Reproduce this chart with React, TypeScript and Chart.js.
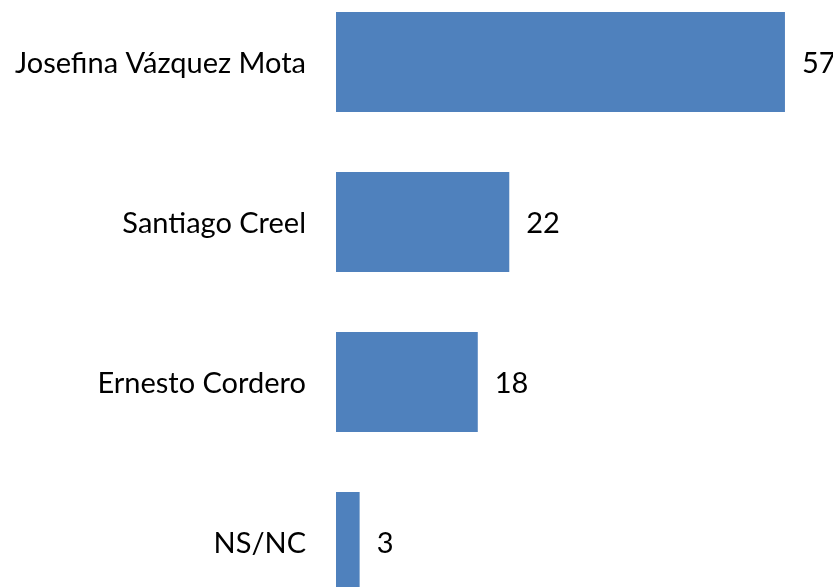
import React, { useEffect, useRef } from "react";
import { Chart, registerables } from "chart.js";

Chart.register(...registerables);

const categories = ["Josefina Vázquez Mota", "Santiago Creel", "Ernesto Cordero", "NS/NC"];
const values = [57, 22, 18, 3];

const FONT = "Lato, 'Open Sans', sans-serif";
const FONT_SIZE = 29;

const textLabels = {
  id: "textLabels",
  afterDatasetsDraw(chart: any) {
    const ctx = chart.ctx;
    const meta = chart.getDatasetMeta(0);
    const yScale = chart.scales.y;
    const left = chart.chartArea.left;
    ctx.save();
    ctx.fillStyle = "#000";
    ctx.font = `${FONT_SIZE}px ${FONT}`;
    ctx.textBaseline = "middle";
    categories.forEach((c, i) => {
      ctx.textAlign = "right";
      ctx.fillText(c, left - 30, yScale.getPixelForValue(i) + 2);
    });
    meta.data.forEach((el: any, i: number) => {
      ctx.textAlign = "left";
      ctx.fillText(String(values[i]), el.x + 17, el.y + 2);
    });
    ctx.restore();
  },
};

export default function App() {
  const ref = useRef<HTMLCanvasElement>(null);
  useEffect(() => {
    const chart = new Chart(ref.current!, {
      type: "bar",
      data: {
        labels: categories,
        datasets: [
          {
            data: values,
            backgroundColor: "#4F81BD",
            borderWidth: 0,
            categoryPercentage: 1,
            barPercentage: 0.625,
          },
        ],
      },
      options: {
        indexAxis: "y",
        animation: false,
        responsive: false,
        maintainAspectRatio: false,
        layout: { padding: { left: 336, right: 0, top: 0, bottom: 0 } },
        plugins: { legend: { display: false }, tooltip: { enabled: false } },
        scales: {
          x: { display: false, min: 0, max: 63.1 },
          y: { display: false },
        },
      },
      plugins: [textLabels],
    });
    return () => chart.destroy();
  }, []);
  return (
    <div style={{ position: "fixed", left: 0, top: 0, width: 833, height: 587, overflow: "hidden", background: "#fff" }}>
      <div style={{ position: "absolute", left: 0, top: -18, width: 833, height: 640 }}>
        <canvas ref={ref} width={833} height={640} style={{ display: "block" }} />
      </div>
    </div>
  );
}
